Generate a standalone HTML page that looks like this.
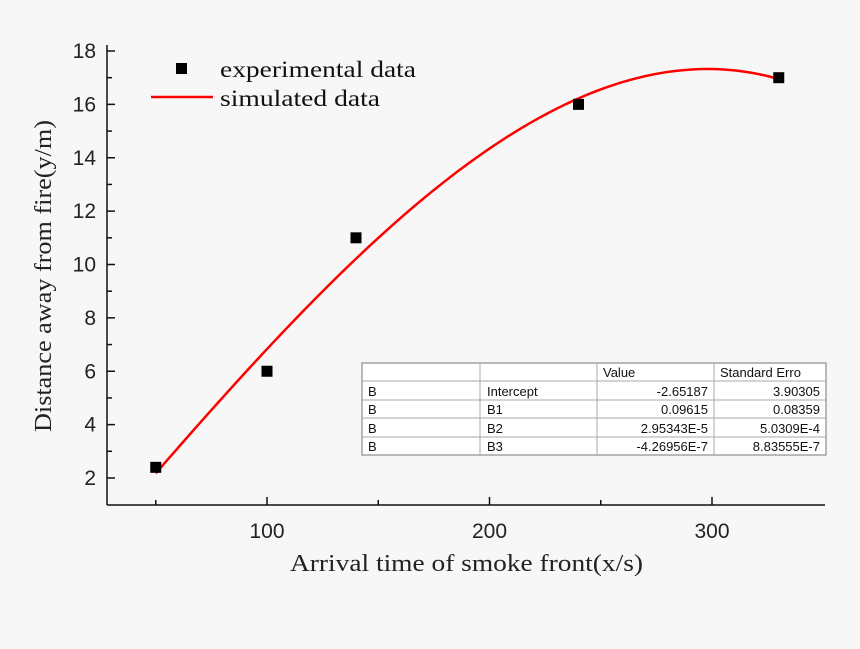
<!DOCTYPE html>
<html><head><meta charset="utf-8"><style>
body{margin:0;background:#f7f7f7;}
svg{display:block;}
</style></head><body>
<svg width="860" height="649" viewBox="0 0 860 649">
<rect width="860" height="649" fill="#f7f7f7"/>
<g id="axes"></g>
<g id="marks"></g>
<g font-family="Liberation Serif, serif" font-size="23" fill="#111">
  <rect x="176" y="63" width="11" height="11" fill="#000"/>
  <text x="220" y="77" textLength="196" lengthAdjust="spacingAndGlyphs">experimental data</text>
  <line x1="151" y1="97" x2="213" y2="97" stroke="#ff0000" stroke-width="2.5"/>
  <text x="220" y="106" textLength="160" lengthAdjust="spacingAndGlyphs">simulated data</text>
</g>
<text x="290" y="571" textLength="353" lengthAdjust="spacingAndGlyphs" font-family="Liberation Serif, serif" font-size="24" fill="#222">Arrival time of smoke front(x/s)</text>
<text transform="translate(51,432) rotate(-90)" textLength="312" lengthAdjust="spacingAndGlyphs" font-family="Liberation Serif, serif" font-size="24" fill="#222">Distance away from fire(y/m)</text>
<g font-family="Liberation Sans, sans-serif" font-size="13" fill="#111">
  <rect x="362" y="363" width="464" height="92" fill="#fff" stroke="#777" stroke-width="1"/>
  <g stroke="#aaa" stroke-width="1">
    <line x1="362" y1="381" x2="826" y2="381"/><line x1="362" y1="400" x2="826" y2="400"/>
    <line x1="362" y1="418" x2="826" y2="418"/><line x1="362" y1="437" x2="826" y2="437"/>
    <line x1="480" y1="363" x2="480" y2="455"/><line x1="597" y1="363" x2="597" y2="455"/>
    <line x1="714" y1="363" x2="714" y2="455"/>
  </g>
  <text x="603" y="377">Value</text><text x="720" y="377">Standard Erro</text>
  <text x="368" y="396">B</text><text x="487" y="396">Intercept</text><text x="708" y="396" text-anchor="end">-2.65187</text><text x="820" y="396" text-anchor="end">3.90305</text>
  <text x="368" y="414">B</text><text x="487" y="414">B1</text><text x="708" y="414" text-anchor="end">0.09615</text><text x="820" y="414" text-anchor="end">0.08359</text>
  <text x="368" y="433">B</text><text x="487" y="433">B2</text><text x="708" y="433" text-anchor="end">2.95343E-5</text><text x="820" y="433" text-anchor="end">5.0309E-4</text>
  <text x="368" y="451">B</text><text x="487" y="451">B3</text><text x="708" y="451" text-anchor="end">-4.26956E-7</text><text x="820" y="451" text-anchor="end">8.83555E-7</text>
</g>
</svg>
<script>
const xTicks = [100, 200, 300];
const xMinor = [50, 150, 250];
const yTicks = [2, 4, 6, 8, 10, 12, 14, 16, 18];
const yMinor = [3, 5, 7, 9, 11, 13, 15, 17];
const expX = [50, 100, 140, 240, 330];
const expY = [2.4, 6, 11, 16, 17];
const fitCoef = [-2.65187, 0.09615, 2.95343e-5, -4.26956e-7];
const fitRange = [50, 330];

const NS = 'http://www.w3.org/2000/svg';
function xs(v){ return 267 + (v - 100) * 2.225; }
function ys(v){ return 478 - (v - 2) * 26.6875; }
function mk(tag, attrs, parent){
  const e = document.createElementNS(NS, tag);
  for (const k in attrs) e.setAttribute(k, attrs[k]);
  parent.appendChild(e); return e;
}
const axes = document.getElementById('axes');
const marks = document.getElementById('marks');
let e;
e = mk('line', {x1:107, y1:505, x2:825, y2:505, stroke:'#111', 'stroke-width':1.5}, axes);


e = mk('line', {x1:107, y1:45, x2:107, y2:505, stroke:'#111', 'stroke-width':1.5}, axes);


xTicks.forEach(v => {
  const t = mk('line', {x1:xs(v), y1:505, x2:xs(v), y2:497, stroke:'#111', 'stroke-width':1.5}, axes);
  
  
  const l = mk('text', {x:xs(v), y:538, 'text-anchor':'middle', 'font-family':'Liberation Sans, sans-serif', 'font-size':21, fill:'#222'}, axes);
  l.textContent = v;
  
  
});
xMinor.forEach(v => {
  const t = mk('line', {x1:xs(v), y1:505, x2:xs(v), y2:500, stroke:'#111', 'stroke-width':1.5}, axes);
  
  
});
yTicks.forEach(v => {
  const t = mk('line', {x1:107, y1:ys(v), x2:115, y2:ys(v), stroke:'#111', 'stroke-width':1.5}, axes);
  
  
  const l = mk('text', {x:96, y:ys(v)+7, 'text-anchor':'end', 'font-family':'Liberation Sans, sans-serif', 'font-size':21, fill:'#222'}, axes);
  l.textContent = v;
  
  
});
yMinor.forEach(v => {
  const t = mk('line', {x1:107, y1:ys(v), x2:112, y2:ys(v), stroke:'#111', 'stroke-width':1.5}, axes);
  
  
});
let d = '';
for (let i = 0; i <= 140; i++){
  const x = fitRange[0] + (fitRange[1] - fitRange[0]) * i / 140;
  const y = fitCoef[0] + fitCoef[1]*x + fitCoef[2]*x*x + fitCoef[3]*x*x*x;
  d += (i ? 'L' : 'M') + xs(x).toFixed(2) + ',' + ys(y).toFixed(2);
}
e = mk('path', {d:d, fill:'none', stroke:'#ff0000', 'stroke-width':2.5}, marks);


expX.forEach((x, i) => {
  const p = mk('rect', {x:xs(x)-5.5, y:ys(expY[i])-5.5, width:11, height:11, fill:'#000'}, marks);
  
  
});
</script>
</body></html>
